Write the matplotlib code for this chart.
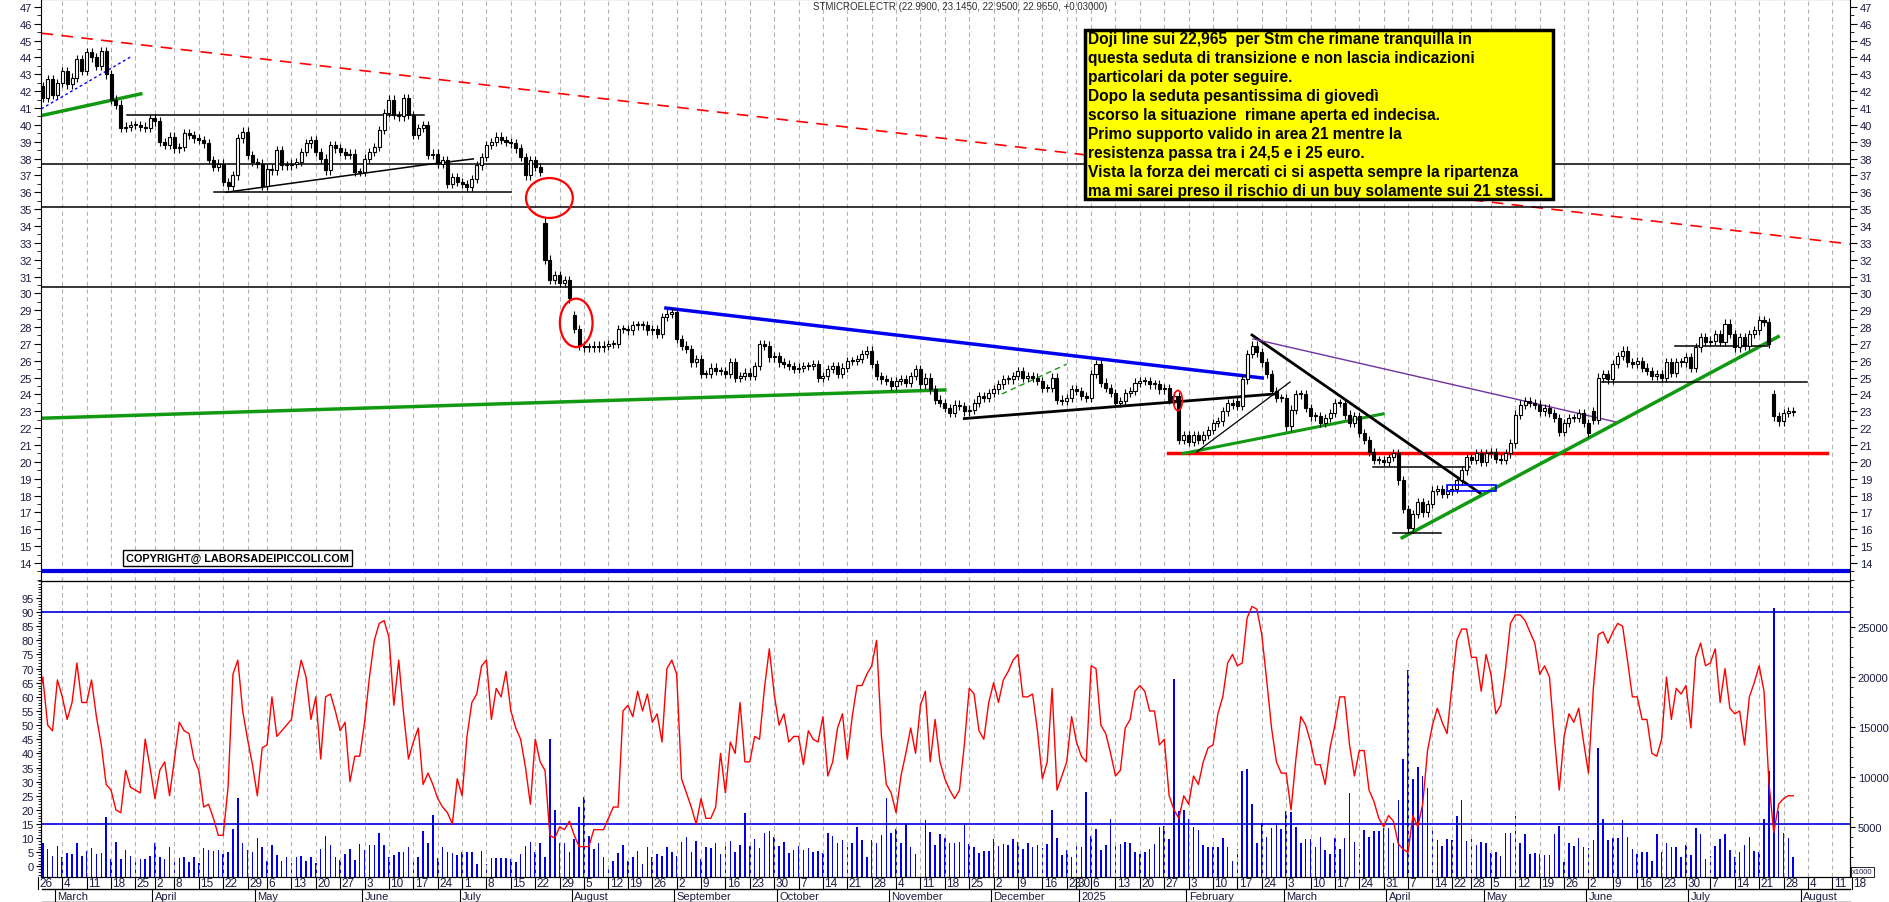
import numpy as np
import pandas as pd
import matplotlib
matplotlib.use("Agg")
import matplotlib.pyplot as plt
from matplotlib.patches import Ellipse, Rectangle
from matplotlib.ticker import MultipleLocator, FixedLocator

plt.rcParams['font.family'] = ['Liberation Sans', 'DejaVu Sans']

# ---------------- DATA ----------------
holidays = ['2024-03-29', '2024-04-01', '2024-05-01', '2024-08-15', '2024-12-24', '2024-12-25',
            '2024-12-26', '2024-12-31', '2025-01-01', '2025-04-18', '2025-04-21', '2025-05-01',
            '2025-08-15']

close = [
    42.3, 41.6, 42.7, 41.8, 42.5, 43.2, 42.4, 42.8, 43.9, 43.2, 44.3, 44.0, 43.5,
    44.4, 43.0, 41.5, 41.2, 39.8, 39.9, 40.0, 40.0, 39.9, 39.8,
    40.4, 40.2, 39.0, 38.8, 39.3, 38.6, 38.7, 39.5, 39.4, 39.2,
    39.1, 38.9, 37.9, 37.5, 37.7, 36.6, 36.4, 37.0, 39.2, 39.6,
    38.2, 37.8, 37.7, 36.4, 37.4, 37.3, 38.5, 37.6, 37.6, 37.7,
    37.8, 38.4, 38.9, 39.1, 38.4, 38.0, 37.3, 38.8, 38.6, 38.4,
    38.2, 38.3, 37.2, 37.2, 38.0, 38.4, 38.7, 39.7, 40.7, 41.5,
    40.6, 40.5, 41.6, 40.6, 39.4, 39.8, 40.0, 38.2, 38.3, 37.7,
    37.9, 36.5, 36.9, 36.6, 36.5, 36.3, 36.8, 37.6, 38.1, 38.8,
    39.0, 39.3,
    39.1, 39.0, 38.9, 38.6, 38.1, 37.0, 37.9, 37.5, 37.2, 32.0,
    30.8, 31.1, 30.6, 30.8, 29.7, 27.9, 26.9, 26.8, 26.8, 26.9,
    26.8, 26.9, 27.0, 27.0, 27.9, 27.9, 27.8, 28.1, 28.1, 28.1,
    27.8, 27.9, 27.6, 28.6, 28.8, 28.9, 27.3, 26.9, 26.7, 25.9,
    26.1, 25.2, 25.2, 25.6, 25.4, 25.4, 25.2, 25.9, 25.0, 25.1,
    25.3, 25.1, 25.7, 27.0, 26.9, 26.2, 26.3, 25.9, 25.8, 25.7,
    25.5, 25.6, 25.7, 25.7, 25.8, 25.0, 25.1, 25.5, 25.7, 25.2,
    25.6, 26.0, 26.0, 26.1, 26.4, 26.6, 25.8, 25.1, 24.9, 24.8,
    24.5, 24.8, 24.9, 24.7, 25.1, 25.5, 24.6, 25.0, 24.3, 23.7,
    23.5,
    23.2, 22.9, 23.4, 23.3, 23.0, 23.1, 23.5, 23.9, 23.8, 24.1, 24.3, 24.6,
    24.9, 24.9, 25.1, 25.4, 25.0, 25.1, 25.0, 24.8, 24.4, 24.4,
    25.0, 23.7, 23.6, 23.8, 24.3, 24.2, 23.9, 23.8, 25.2, 25.8,
    24.7, 24.4, 24.1, 23.5, 23.6, 24.1, 24.2, 24.7, 24.8, 24.8,
    24.6, 24.6, 24.3, 24.4, 23.7, 23.9, 21.3, 21.6, 21.2, 21.6,
    21.3, 21.6, 21.9, 22.3, 22.4, 23.0, 23.5, 23.4, 23.3,
    24.9, 26.4, 26.9, 26.5, 25.9, 25.2, 24.2, 23.8, 23.8, 22.1,
    23.1, 24.0, 24.0, 23.2, 22.7, 22.7, 22.3, 22.6, 22.9, 23.5,
    23.5, 22.8, 22.3, 22.7, 21.7, 21.3, 20.6, 20.1, 20.1, 20.0,
    20.3, 20.5, 18.9, 17.2, 16.1, 16.9, 17.6, 17.0, 17.5, 18.3,
    18.4, 18.1, 18.3, 18.4, 18.9, 19.5, 20.3, 20.1, 20.5, 20.0,
    20.5, 20.6, 20.2, 20.1, 20.5, 21.1, 22.8, 23.4, 23.6, 23.5,
    23.4, 23.0, 23.2, 22.9, 22.6, 21.8, 22.3, 22.6, 22.6, 22.9,
    22.3, 21.7, 22.5, 25.0, 25.2, 24.9, 25.8, 26.3, 26.6, 25.9,
    25.8, 26.0, 25.6, 25.4, 25.1, 25.2, 25.0, 25.9, 25.3, 25.9,
    25.9, 26.2, 25.6, 26.8, 27.4, 27.1, 27.2, 27.6, 27.1, 28.2,
    27.6, 26.8, 27.4, 26.9, 27.6, 27.8, 28.4, 28.3, 27.0, 22.7,
    22.4, 22.9, 23.0, 22.965,
]
gap_opens = {104: 34.2, 110: 28.7, 356: 24.0, 319: 23.0, 246: 23.6}

osc = [
    57, 67, 50, 48, 66, 60, 52, 58, 72, 58, 58, 66, 53, 43, 29, 27, 20, 19, 34, 28,
    27, 26, 45, 35, 24, 34, 37, 25, 38, 51, 48, 47, 38, 34, 21, 22, 17, 11, 11, 28,
    68, 73, 55, 45, 36, 25, 42, 43, 60, 46, 48, 50, 52, 64, 73, 67, 52, 60, 38, 60,
    61, 55, 48, 51, 30, 39, 39, 51, 67, 80, 86, 87, 81, 57, 73, 54, 38, 44, 49, 29,
    33, 29, 24, 21, 19, 15, 31, 25, 46, 58, 61, 71, 73,
    52, 63, 60, 69, 55, 49, 45, 35, 22, 45, 37, 34, 11, 10, 14, 13, 16, 11, 7, 7,
    7, 13, 13, 13, 17, 21, 21, 55, 57, 53, 62, 55, 61, 51, 54, 44, 70, 73, 68, 31,
    26, 21, 15, 24, 17, 17, 21, 40, 26, 44, 40, 58, 37, 37, 46, 45, 63, 77, 61, 50,
    54, 44, 46, 46, 36, 48, 45, 44, 53, 32, 37, 49, 54, 38, 53, 64, 64, 68, 71, 80,
    46, 29, 26, 19, 32, 40, 49, 40, 57, 62, 37, 52, 37,
    31, 27, 24, 27, 43, 63, 61, 48, 45, 58, 65, 58, 66, 69, 73, 75, 60, 60, 61, 48,
    31, 37, 63, 27, 32, 37, 53, 44, 39, 37, 71, 70, 50, 47, 40, 32, 34, 49, 52, 62,
    64, 62, 55, 55, 43, 45, 25, 20, 17, 25, 22, 32, 29, 37, 42, 43, 54, 60, 72, 75,
    71, 72, 88, 92, 91, 82, 66, 49, 37, 33, 33, 20, 38, 53, 50, 44, 36, 36, 29, 42,
    50, 60, 60, 43, 32, 41, 41, 27, 23, 17, 14,
    18, 16, 8, 6, 5, 18, 14, 22, 41, 50, 56, 51, 47, 64, 80, 84, 84, 74, 74, 62,
    75, 68, 54, 57, 70, 86, 89, 89, 87, 83, 79, 68, 71, 67, 46, 27, 46, 54, 51, 56,
    44, 33, 63, 82, 83, 79, 83, 86, 85, 73, 60, 60, 52, 52, 40, 39, 45, 67, 52, 63,
    61, 64, 49, 74, 79, 71, 72, 77, 58, 70, 56, 54, 55, 43, 60, 65, 71, 62, 30, 12,
    22, 24, 25, 25,
]

volume_k = [
    3.0, 3.4, 2.8, 2.1, 3.1, 2.0, 2.4, 2.3, 3.4, 2.1, 2.6, 2.9, 2.3, 2.4, 6.0, 1.8, 3.5, 1.8, 2.7, 2.1,
    1.8, 1.8, 1.8, 2.1, 3.4, 2.0, 1.8, 3.0, 1.6, 1.9, 2.0, 1.5, 2.0, 1.4, 2.9, 2.7, 2.6, 2.7, 2.3, 2.5,
    4.8, 7.9, 3.4, 2.7, 2.5, 3.9, 3.0, 1.6, 3.2, 2.2, 1.6, 2.0, 1.4, 2.0, 2.1, 1.6, 2.0, 1.4, 2.8, 4.1,
    3.2, 2.0, 1.7, 2.3, 2.8, 1.7, 3.3, 2.7, 3.2, 3.2, 4.4, 3.2, 2.0, 2.2, 2.5, 2.5, 3.0, 1.8, 2.0, 4.6,
    3.4, 6.2, 1.9, 3.0, 2.5, 2.4, 2.2, 2.5, 2.5, 2.5, 1.3, 2.6, 1.3,
    1.9, 1.9, 1.9, 1.9, 1.8, 1.5, 2.3, 3.1, 3.5, 2.5, 3.4, 2.0, 13.8, 6.7, 3.4, 3.4, 2.5, 3.8, 7.0, 8.0,
    4.1, 2.8, 3.4, 2.0, 1.1, 1.6, 2.4, 3.2, 1.6, 2.0, 2.6, 1.3, 3.0, 2.0, 2.3, 2.1, 3.0, 2.5, 2.1, 3.5,
    4.0, 2.5, 3.6, 1.8, 3.0, 2.9, 3.4, 2.3, 3.1, 3.6, 2.5, 3.2, 6.4, 3.1, 3.8, 2.9, 4.4, 4.6, 4.0, 3.1,
    3.5, 2.4, 2.7, 3.1, 2.7, 2.9, 2.5, 2.6, 2.4, 4.4, 4.1, 3.4, 3.7, 3.0, 3.4, 5.0, 3.7, 2.0, 3.7, 3.4,
    4.2, 7.9, 4.4, 4.8, 3.4, 5.3, 3.0, 2.3, 0.1, 5.7, 4.5, 3.2, 4.3,
    3.9, 3.4, 3.4, 3.5, 5.2, 3.3, 3.0, 2.4, 2.6, 2.6, 3.8, 3.1, 3.3, 3.2, 3.8, 3.5, 2.8, 3.4, 3.0, 3.2,
    2.9, 3.3, 6.7, 3.9, 2.2, 2.7, 2.0, 3.5, 3.0, 8.5, 4.1, 4.8, 2.7, 3.2, 5.8, 3.5, 3.3, 3.5, 3.4, 2.5,
    2.3, 2.5, 2.8, 3.3, 5.0, 5.1, 3.8, 19.8, 6.6, 6.7, 5.8, 5.0, 4.7, 3.2, 3.0, 3.0, 3.0, 3.9, 3.0, 1.6,
    2.8, 10.6, 10.8, 7.3, 3.4, 5.4, 4.0, 4.9, 5.4, 4.8, 6.6, 6.5, 5.0, 3.4, 3.8, 3.8, 3.0, 4.0, 2.7, 2.3,
    3.9, 2.8, 3.9, 8.4, 3.5, 2.8, 4.7, 4.0, 4.6, 4.6, 4.9,
    4.9, 3.4, 7.7, 11.8, 20.7, 9.8, 11.0, 10.1, 8.9, 4.7, 3.7, 3.1, 3.8, 3.7, 6.1, 7.7, 3.6, 3.8, 3.2, 3.5,
    3.4, 2.4, 2.5, 2.1, 4.4, 4.4, 6.1, 3.4, 4.3, 2.3, 2.4, 2.3, 2.2, 2.2, 4.3, 5.1, 1.5, 3.4, 3.1, 3.9,
    3.0, 2.9, 3.7, 12.9, 5.8, 3.7, 3.9, 3.9, 5.7, 4.0, 2.8, 2.3, 2.5, 2.5, 1.6, 4.3, 2.5, 3.4, 3.0, 3.0,
    2.0, 3.2, 2.2, 4.9, 4.3, 1.8, 2.1, 3.1, 3.8, 4.3, 2.7, 2.0, 2.5, 3.2, 4.0, 2.6, 2.5, 5.8, 10.6, 26.9,
    6.6, 4.4, 3.9, 2.0,
]

header = "STMICROELECTR (22.9900, 23.1450, 22.9500, 22.9650, +0.03000)"
note_lines = [
    "Doji line sui 22,965  per Stm che rimane tranquilla in",
    "questa seduta di transizione e non lascia indicazioni",
    "particolari da poter seguire.",
    "Dopo la seduta pesantissima di giovedì",
    "scorso la situazione  rimane aperta ed indecisa.",
    "Primo supporto valido in area 21 mentre la",
    "resistenza passa tra i 24,5 e i 25 euro.",
    "Vista la forza dei mercati ci si aspetta sempre la ripartenza",
    "ma mi sarei preso il rischio di un buy solamente sui 21 stessi.",
]
copyright_text = "COPYRIGHT@ LABORSADEIPICCOLI.COM"
month_names = ['January', 'February', 'March', 'April', 'May', 'June', 'July', 'August',
               'September', 'October', 'November', 'December']

# ---------------- PREP ----------------
n = min(len(close), len(osc), len(volume_k))
close = np.array(close[:n], dtype=float)
osc = np.array(osc[:n], dtype=float)
volume_k = np.array(volume_k[:n], dtype=float)
days = pd.bdate_range('2024-02-26', '2025-08-29')
days = days[~days.isin(pd.to_datetime(holidays))]
x = np.arange(n)
opens = np.concatenate([[close[0]], close[:-1]])
for k, v in gap_opens.items():
    if k < n:
        opens[k] = v

W, H = 1890, 903
fig = plt.figure(figsize=(W / 100, H / 100), dpi=100)

def fr(px_l, px_t, px_r, px_b):
    return [px_l / W, 1 - px_b / H, (px_r - px_l) / W, (px_b - px_t) / H]

XL, XR = 41.5, 1850
x0px, dpx = 37.9, 4.876
xlim = ((XL - x0px) / dpx, (XR - x0px) / dpx)

ax = fig.add_axes(fr(XL, 0, XR, 582))
axo = fig.add_axes(fr(XL, 582, XR, 878))
axv = axo.twinx()
axd = fig.add_axes(fr(0, 878, W, 903))

labcol = '#1c1c40'
# week starts
wk = pd.Series(np.arange(len(days)), index=days)
week_first = wk.groupby(days.to_period('W')).first().values
week_first = [w for w in week_first if w <= xlim[1] + 3]

for a in (ax, axo):
    a.set_xlim(*xlim)
    for w in week_first:
        a.axvline(w, color='#b4b4b4', lw=0.8, ls=(0, (4, 3)), zorder=0)
    a.set_xticks([])

# ---- price panel ----
ax.set_ylim(12.93, 47.47)
up = close >= opens
body_lo = np.minimum(opens, close)
body_h = np.abs(close - opens)
hi = np.maximum(opens, close) + 0.25
lo = body_lo - 0.25
ax.vlines(x, lo, hi, color='black', lw=0.8, zorder=3)
bh = np.where(body_h < 0.06, 0.06, body_h)
ax.bar(x[up], bh[up], bottom=body_lo[up], width=0.62, color='white', edgecolor='black', lw=0.8, zorder=4)
ax.bar(x[~up], bh[~up], bottom=body_lo[~up], width=0.62, color='black', edgecolor='black', lw=0.8, zorder=4)

def seg(a, x1, y1, x2, y2, **kw):
    a.plot([x1, x2], [y1, y2], **kw)

ax.plot(xlim, [45.44, 32.93], color='red', lw=1.2, ls=(0, (7, 5)), zorder=2)
for lv in (37.68, 35.1, 30.37):
    ax.axhline(lv, color='black', lw=1.1, zorder=2)
ax.axhline(13.5, color='#0000e0', lw=3, zorder=2)
seg(ax, 0.7, 40.95, 19.3, 44.08, color='blue', lw=1, ls=(0, (2, 2)))
seg(ax, 0.7, 40.55, 21.1, 41.84, color='#119911', lw=2.5)
seg(ax, 18.2, 40.57, 79.1, 40.57, color='black', lw=1.1)
seg(ax, 36.2, 36.0, 97.1, 36.0, color='black', lw=1.1)
ax.plot([38.6, 79.1, 89.3], [36.0, 37.62, 37.98], color='black', lw=1.1)
ax.add_patch(Ellipse((104.9, 35.66), 9.6, 2.37, fill=False, ec='red', lw=1.6, zorder=5))
ax.add_patch(Ellipse((110.4, 28.25), 6.7, 2.87, fill=False, ec='red', lw=1.6, zorder=5))
ax.add_patch(Ellipse((233.8, 23.64), 1.8, 1.2, fill=False, ec='red', lw=1.2, zorder=5))
seg(ax, xlim[0], 22.59, 186.0, 24.27, color='#119911', lw=2.5)
seg(ax, 128.8, 29.13, 251.1, 24.98, color='#0000ee', lw=2.5)
seg(ax, 190.0, 22.57, 253.7, 24.03, color='black', lw=2)
seg(ax, 197.7, 24.03, 211.0, 25.8, color='#119911', lw=1, ls=(0, (4, 3)))
seg(ax, 231.8, 20.5, 366.9, 20.5, color='red', lw=2.5)
seg(ax, 234.9, 20.5, 275.9, 22.85, color='#119911', lw=2.2)
seg(ax, 237.7, 20.6, 256.8, 24.74, color='black', lw=0.9)
seg(ax, 249.0, 27.53, 296.0, 18.1, color='black', lw=2)
seg(ax, 249.2, 27.3, 323.9, 22.35, color='#7030a0', lw=1)
seg(ax, 279.8, 15.5, 356.9, 27.43, color='#119911', lw=2.5)
seg(ax, 273.8, 19.7, 293.7, 19.7, color='black', lw=1.1)
seg(ax, 278.0, 15.75, 287.8, 15.75, color='black', lw=1.1)
ax.add_patch(Rectangle((288.9, 18.3), 10.2, 0.35, fill=False, ec='blue', lw=1.2, zorder=5))
seg(ax, 320.8, 24.74, 362.8, 24.74, color='black', lw=1.1)
seg(ax, 335.7, 26.88, 354.8, 26.88, color='black', lw=1.1)

ax.yaxis.set_major_locator(MultipleLocator(1))
ax.yaxis.set_minor_locator(MultipleLocator(0.5))
ax.set_yticks(range(14, 48))
ax.tick_params(axis='y', which='both', left=True, right=True, labelleft=True, labelright=True,
               direction='out', labelsize=8, labelcolor=labcol, pad=2)
ax.tick_params(axis='y', which='major', length=5)
ax.tick_params(axis='y', which='minor', length=3)
ax.tick_params(axis='x', bottom=False)

# ---- lower panel ----
axo.set_ylim(-3.75, 101.0)
axv.set_ylim(0, 29.6)
axo.plot(x, osc, color='red', lw=1, zorder=3)
axo.axhline(15, color='#0000e0', lw=1.2, zorder=2)
axo.axhline(90, color='#0000e0', lw=1.2, zorder=2)
axv.bar(x, volume_k, width=0.32, color='#0000ee', zorder=2)
axo.set_zorder(axv.get_zorder() + 1)
axo.patch.set_visible(False)
axo.set_yticks(range(0, 100, 5))
axo.yaxis.set_minor_locator(MultipleLocator(1))
axo.tick_params(axis='y', which='both', direction='out', labelsize=8, labelcolor=labcol, pad=2)
axo.tick_params(axis='y', which='minor', length=2)
axv.set_yticks([5, 10, 15, 20, 25])
axv.set_yticklabels(['5000', '10000', '15000', '20000', '25000'])
axv.yaxis.set_minor_locator(MultipleLocator(1))
axv.tick_params(axis='y', which='both', direction='out', labelsize=8, labelcolor=labcol, pad=2)
axv.tick_params(axis='y', which='minor', length=2)
fig.text(1852 / W, 1 - 873 / H, 'x1000', fontsize=5.5, va='center', ha='left', color=labcol,
         bbox=dict(boxstyle='square,pad=0.15', fc='white', ec='black', lw=0.6))

# ---- date rows ----
axd.set_xlim(-XL / dpx + xlim[0], xlim[1] + (W - XR) / dpx)
axd.set_ylim(0, 25)
axd.axis('off')
axd.plot([xlim[0], xlim[1]], [13, 13], color='black', lw=1)
axd.plot([xlim[0], xlim[1]], [0.3, 0.3], color='black', lw=1)
for w in week_first:
    d = days[w]
    axd.plot([w, w], [13, 25], color='black', lw=0.8)
    axd.text(w + 0.3, 19, str(d.day), fontsize=8.5, ha='left', va='center', color=labcol)
prev_m = None
for i, d in enumerate(days[: int(xlim[1]) + 1]):
    if prev_m is not None and d.month != prev_m:
        lab = str(d.year) if d.month == 1 else month_names[d.month - 1]
        axd.plot([i - 0.5, i - 0.5], [0, 13], color='black', lw=0.8)
        axd.text(i, 6, lab, fontsize=8, ha='left', va='center', color=labcol)
    prev_m = d.month

# ---- texts ----
fig.text(960 / W, 1 - 7 / H, header, fontsize=7, ha='center', va='center', color='#303030')
fig.patches.append(Rectangle((1085 / W, 1 - 200 / H), (1553 - 1085) / W, (200 - 31) / H,
                             transform=fig.transFigure, fc='#ffff00', ec='black', lw=2.5, zorder=10))
for i, line in enumerate(note_lines):
    fig.text(1088 / W, 1 - (39.5 + 19 * i) / H, line, fontsize=11.2, fontweight='bold',
             ha='left', va='center', color='black', zorder=11)
fig.text(126 / W, 1 - 559 / H, copyright_text, fontsize=7.8, fontweight='bold', ha='left', va='center',
         bbox=dict(boxstyle='square,pad=0.25', fc='white', ec='black', lw=1), zorder=11)

fig.savefig('out.png', dpi=100)
